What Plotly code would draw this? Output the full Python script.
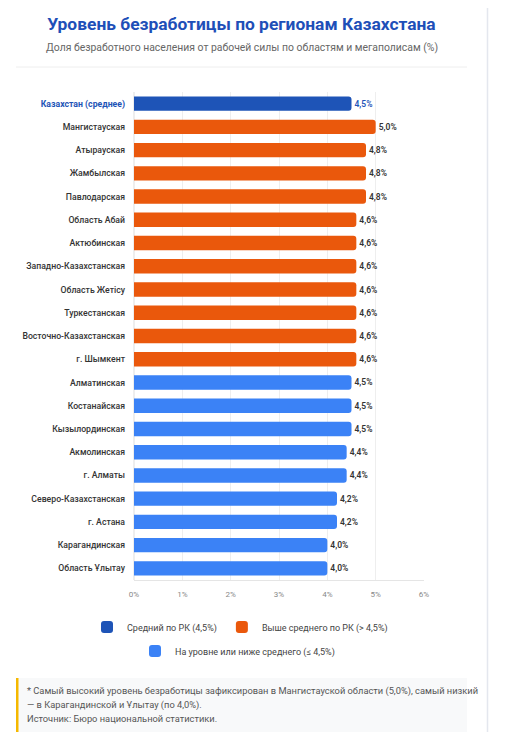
import plotly.graph_objects as go

regions = ["Казахстан (среднее)", "Мангистауская", "Атырауская", "Жамбылская",
           "Павлодарская", "Область Абай", "Актюбинская", "Западно-Казахстанская",
           "Область Жетісу", "Туркестанская", "Восточно-Казахстанская", "г. Шымкент",
           "Алматинская", "Костанайская", "Кызылординская", "Акмолинская",
           "г. Алматы", "Северо-Казахстанская", "г. Астана", "Карагандинская",
           "Область Ұлытау"]
rates = [4.5, 5.0, 4.8, 4.8, 4.8, 4.6, 4.6, 4.6, 4.6, 4.6, 4.6, 4.6,
         4.5, 4.5, 4.5, 4.4, 4.4, 4.2, 4.2, 4.0, 4.0]
groups = ["avg"] + ["above"] * 11 + ["below"] * 9

x_ticks = [0, 1, 2, 3, 4, 5, 6]
x_ticktext = ["0%", "1%", "2%", "3%", "4%", "5%", "6%"]

footnote = ["* Самый высокий уровень безработицы зафиксирован в Мангистауской области (5,0%), самый низкий",
            "— в Карагандинской и Ұлытау (по 4,0%).",
            "Источник: Бюро национальной статистики."]

# the page body adds an 8px margin, so the figure starts at (8, 8)
OFF = 8
W, H = 506 - OFF, 732 - OFF
L, R, T, B = 134, 424, 92, 580  # plot area, page px


def px_x(p):
    return (p - L) / (R - L)


def px_y(p):
    return (B - p) / (B - T)


FONT = "Roboto"

series = {
    "avg": dict(name="Средний по РК (4,5%)", color="#1e54b7", text="#1e54b7", legend="legend"),
    "above": dict(name="Выше среднего по РК (> 4,5%)", color="#ea580c", text="#333333", legend="legend"),
    "below": dict(name="На уровне или ниже среднего (≤ 4,5%)", color="#3b82f6", text="#333333", legend="legend2"),
}

fig = go.Figure()
for key, s in series.items():
    ys = [r for r, g in zip(regions, groups) if g == key]
    xs = [v for v, g in zip(rates, groups) if g == key]
    fig.add_trace(go.Bar(
        x=xs, y=ys, orientation="h", name=s["name"],
        marker=dict(color=s["color"], cornerradius=3, line_width=0),
        texttemplate="%{x:.1f}%", textposition="outside", cliponaxis=False,
        textfont=dict(size=8.5, color=s["text"], family=FONT, weight=600),
        legend=s["legend"], hoverinfo="x+y",
    ))

ticktext = ["<span style='color:#1e54b7'><b>" + r + "</b></span>" if g == "avg" else r
            for r, g in zip(regions, groups)]

fig.update_layout(
    width=W, height=H,
    margin=dict(l=L - OFF, r=W + OFF - R, t=T - OFF, b=H + OFF - B),
    paper_bgcolor="white", plot_bgcolor="white",
    font=dict(family=FONT, color="#333333"),
    separators=", ",
    barmode="overlay", bargap=0.38,
    title=dict(text="<b>Уровень безработицы по регионам Казахстана</b>",
               x=(241.5 - OFF) / W, xanchor="center", xref="container",
               y=1 - (24 - OFF) / H, yanchor="middle", yref="container",
               font=dict(size=17.4, color="#1e4fb8", family=FONT)),
    xaxis=dict(range=[0, 6], tickvals=x_ticks, ticktext=x_ticktext,
               showgrid=True, gridcolor="#eeeeee", zeroline=True, zerolinecolor="#eeeeee",
               showline=True, linecolor="#e5e5e5",
               tickfont=dict(size=8, color="#888888"), ticks="", ticklabelstandoff=6),
    yaxis=dict(categoryorder="array", categoryarray=regions, autorange="reversed",
               tickvals=regions, ticktext=ticktext, ticks="", ticklabelstandoff=8,
               tickfont=dict(size=8.7, color="#333333", family=FONT, weight=500),
               showgrid=False, automargin=False),
    legend=dict(orientation="h", x=px_x(87), xanchor="left", y=px_y(627), yanchor="middle",
                font=dict(size=9, color="#444444"), itemclick=False, traceorder="normal"),
    legend2=dict(orientation="h", x=px_x(135), xanchor="left", y=px_y(651), yanchor="middle",
                 font=dict(size=9, color="#444444"), itemclick=False),
)

# subtitle
fig.add_annotation(text="Доля безработного населения от рабочей силы по областям и мегаполисам (%)",
                   xref="paper", yref="paper", x=px_x(241.5), y=px_y(47), yanchor="middle",
                   showarrow=False, font=dict(size=10.4, color="#666666"))

# separator under header
fig.add_shape(type="line", xref="paper", yref="paper",
              x0=px_x(16), x1=px_x(467), y0=px_y(67), y1=px_y(67),
              line=dict(color="#eeeeee", width=1))

# card edge / page side
fig.add_shape(type="line", xref="paper", yref="paper",
              x0=px_x(487.5), x1=px_x(487.5), y0=px_y(0), y1=px_y(740),
              line=dict(color="#e4e7ee", width=1.5))
fig.add_shape(type="line", xref="paper", yref="paper",
              x0=px_x(504), x1=px_x(504), y0=px_y(0), y1=px_y(740),
              line=dict(color="#e8e8e8", width=1))

# footnote box
fig.add_shape(type="rect", xref="paper", yref="paper",
              x0=px_x(16), x1=px_x(467), y0=px_y(678), y1=px_y(745),
              fillcolor="#f8f9fa", line_width=0, layer="below")
fig.add_shape(type="rect", xref="paper", yref="paper",
              x0=px_x(16), x1=px_x(18.5), y0=px_y(678), y1=px_y(745),
              fillcolor="#f5b800", line_width=0)
for line, y in zip(footnote, [691, 705, 718]):
    fig.add_annotation(text=line, xref="paper", yref="paper", x=px_x(25), y=px_y(y),
                       xanchor="left", yanchor="middle", align="left", showarrow=False,
                       font=dict(size=9.3, color="#555555"))

fig.write_html("out.html")
